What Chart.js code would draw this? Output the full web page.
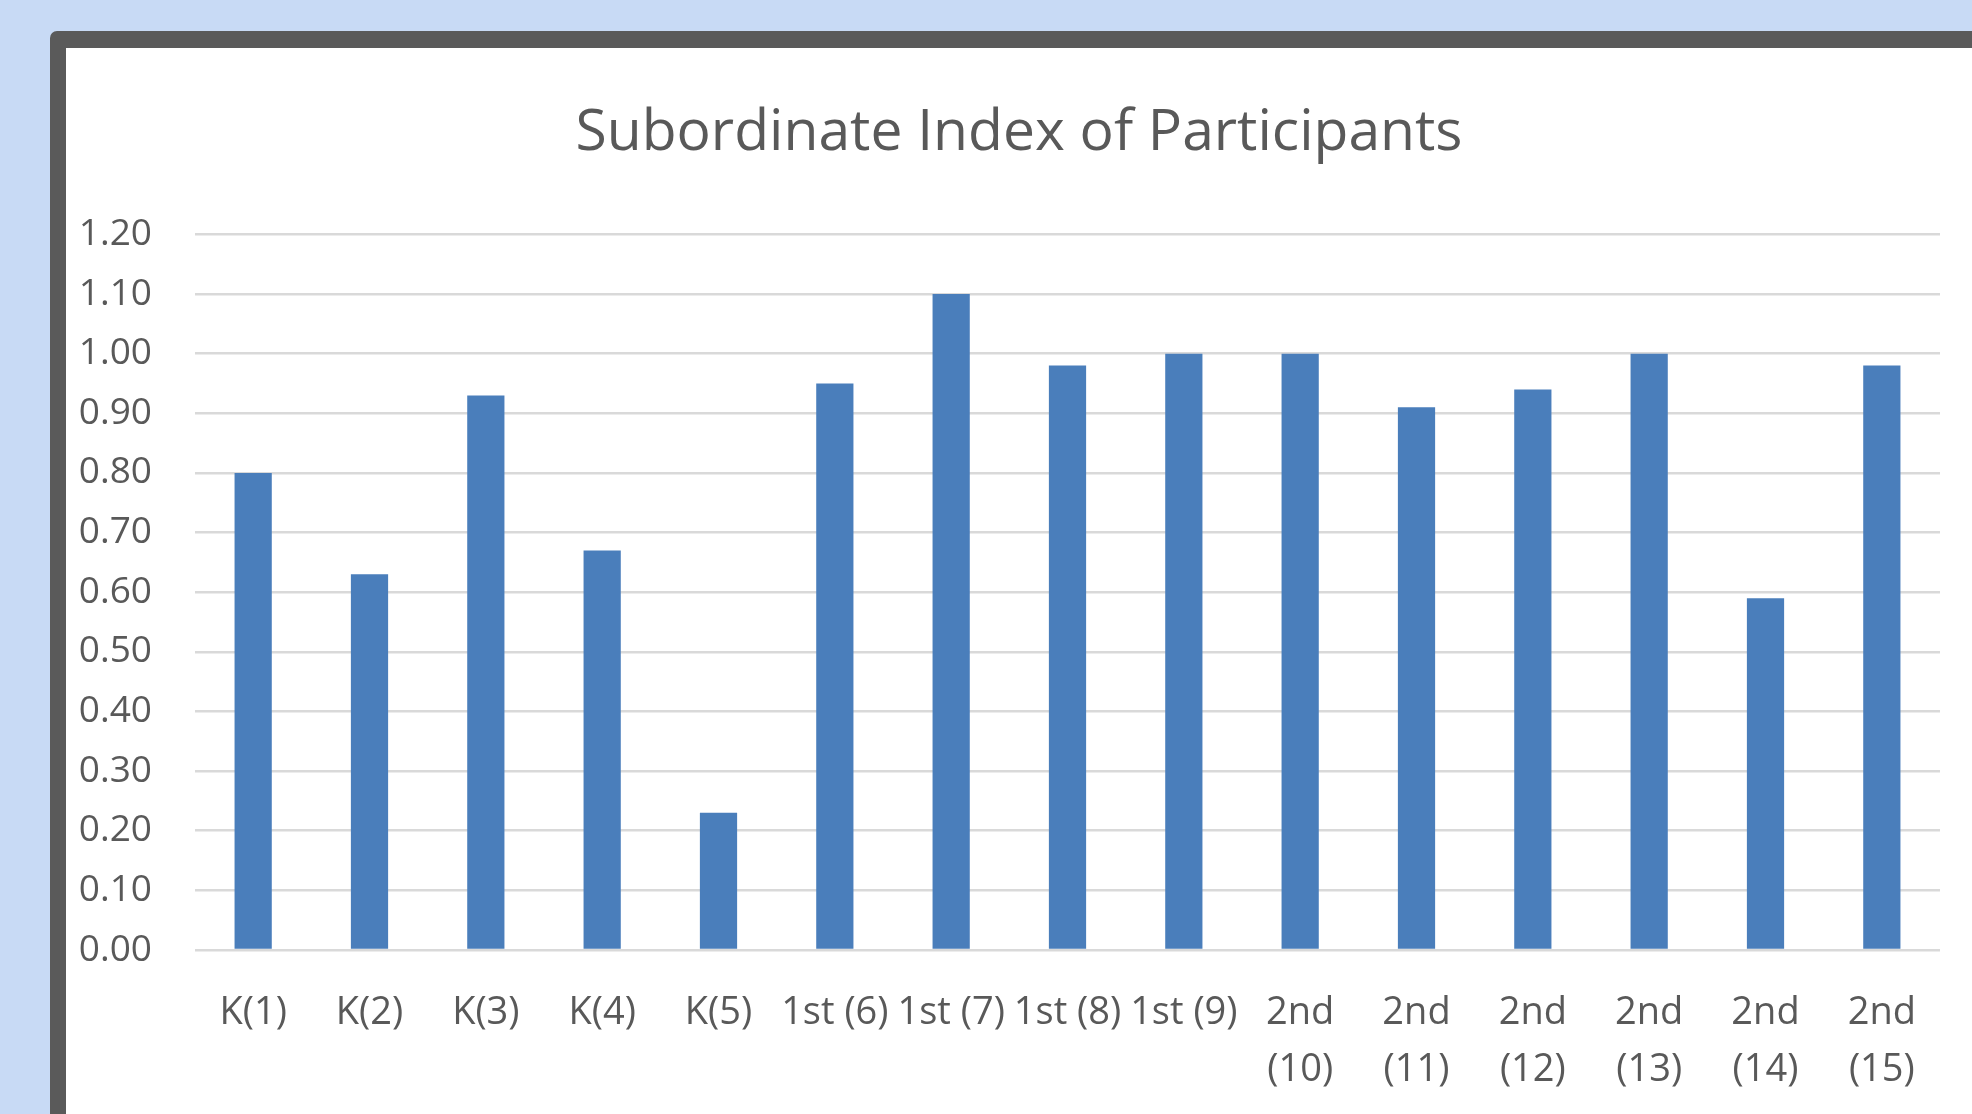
<!DOCTYPE html>
<html>
<head>
<meta charset="utf-8">
<title>Subordinate Index of Participants</title>
<script src="https://cdn.jsdelivr.net/npm/chart.js@4.4.1/dist/chart.umd.min.js"></script>
<style>
	html, body { margin: 0; padding: 0; }
	body { width: 1972px; height: 1114px; overflow: hidden; background: #c8daf5; position: relative; }
	#frame { position: absolute; left: 50px; top: 31px; width: 2000px; height: 1200px; background: #5a5a5a; border-radius: 7px; }
	#sheet { position: absolute; left: 66px; top: 48px; width: 1906px; height: 1066px; background: #ffffff; }
	#sheet canvas { display: block; }
</style>
</head>
<body>
<div id="frame"></div>
<div id="sheet"><canvas id="subIndex"></canvas></div>
<script>
// chart data
var participants = ["K(1)", "K(2)", "K(3)", "K(4)", "K(5)",
	"1st (6)", "1st (7)", "1st (8)", "1st (9)",
	["2nd", "(10)"], ["2nd", "(11)"], ["2nd", "(12)"], ["2nd", "(13)"], ["2nd", "(14)"], ["2nd", "(15)"]];
var subordinateIndex = [0.80, 0.63, 0.93, 0.67, 0.23, 0.95, 1.10, 0.98, 1.00, 1.00, 0.91, 0.94, 1.00, 0.59, 0.98];
var chartTitle = "Subordinate Index of Participants";
var yMin = 0;
var yMax = 1.2;
var yStep = 0.1;

var textColor = "#595959";
var fontName = "'Open Sans', 'Liberation Sans', sans-serif";

function initGraph(){
	var ctx = document.getElementById("subIndex");
	var myBarChart = new Chart(ctx, {
		type: "bar",
		data: {
			labels: participants,
			datasets: [{
				label: "Subordinate Index",
				data: subordinateIndex,
				backgroundColor: "#4a7ebb",
				borderWidth: 0,
				barPercentage: 0.32,
				categoryPercentage: 1.0
			}]
		},
		options: {
			responsive: true,
			maintainAspectRatio: false,
			animation: false,
			layout: { padding: 0 },
			plugins: {
				legend: { display: false },
				tooltip: { enabled: false },
				title: {
					display: true,
					text: chartTitle,
					color: textColor,
					font: { family: fontName, size: 57, weight: "normal", lineHeight: 1.2 },
					padding: { top: 52, bottom: 66 }
				}
			},
			scales: {
				x: {
					grid: { display: false, drawTicks: false },
					border: { display: false },
					ticks: {
						color: textColor,
						font: { family: fontName, size: 38, lineHeight: 1.49 },
						padding: 35,
						maxRotation: 0,
						minRotation: 0,
						autoSkip: false
					},
					afterFit: function(scale){ scale.height = 164; }
				},
				y: {
					min: yMin,
					max: yMax,
					grid: { color: "#d9d9d9", lineWidth: 2.5, drawTicks: false },
					border: { display: false },
					ticks: {
						stepSize: yStep,
						color: textColor,
						font: { family: fontName, size: 37 },
						padding: 43,
						callback: function(value){ return Number(value).toFixed(2); }
					},
					afterFit: function(scale){ scale.width = 129; }
				},
				// empty right margin so the title stays centred on the whole sheet
				yRight: {
					position: "right",
					grid: { display: false, drawTicks: false },
					border: { display: false },
					ticks: { display: false },
					afterFit: function(scale){ scale.width = 32; }
				}
			}
		}
	});
};

initGraph();
</script>
</body>
</html>
